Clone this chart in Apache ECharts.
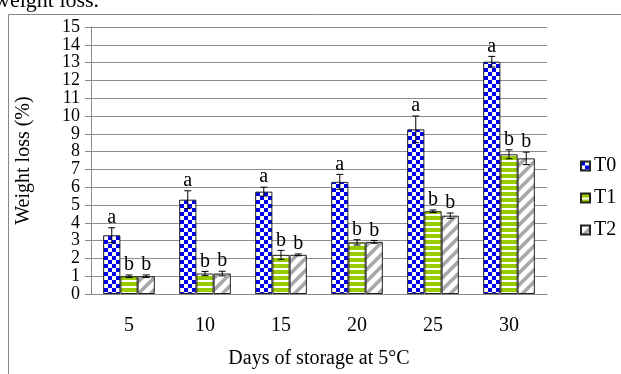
<!DOCTYPE html>
<html><head><meta charset="utf-8">
<script src="https://cdn.jsdelivr.net/npm/echarts@6/dist/echarts.min.js"></script>
<style>html,body{margin:0;padding:0;background:#fff}#c{width:621px;height:374px}</style>
</head><body><div id="c"></div>
<script>
const categories = ['5', '10', '15', '20', '25', '30'];
const seriesNames = ['T0', 'T1', 'T2'];
const t0 = [3.3, 5.3, 5.75, 6.3, 9.25, 13.05];
const t1 = [1.0, 1.15, 2.2, 2.9, 4.65, 7.85];
const t2 = [1.0, 1.15, 2.2, 2.93, 4.4, 7.62];
const t0Err = [0.42, 0.5, 0.25, 0.42, 0.75, 0.3];
const t1Err = [0.07, 0.12, 0.25, 0.15, 0.07, 0.25];
const t2Err = [0.07, 0.13, 0.05, 0.08, 0.15, 0.35];
const t0Letters = ['a', 'a', 'a', 'a', 'a', 'a'];
const t1Letters = ['b', 'b', 'b', 'b', 'b', 'b'];
const t2Letters = ['b', 'b', 'b', 'b', 'b', 'b'];
const yTicks = [0, 1, 2, 3, 4, 5, 6, 7, 8, 9, 10, 11, 12, 13, 14, 15];
const yMin = 0, yMax = 15, yStep = 1;

const FONT = "'Liberation Serif', 'Times New Roman', serif";
const GAP = 0.32;

function makeCanvas(w, h, draw) {
  const c = document.createElement('canvas');
  c.width = w; c.height = h;
  const ctx = c.getContext('2d');
  draw(ctx, w, h);
  return c;
}
const checker = makeCanvas(8, 8, (ctx) => {
  ctx.fillStyle = '#fff'; ctx.fillRect(0, 0, 8, 8);
  ctx.fillStyle = '#0000f0';
  ctx.fillRect(0, 0, 4, 4); ctx.fillRect(4, 4, 4, 4);
});
const hstripe = makeCanvas(6, 6, (ctx) => {
  ctx.fillStyle = '#fff'; ctx.fillRect(0, 0, 6, 6);
  ctx.fillStyle = '#99cc00'; ctx.fillRect(0, 0, 6, 4);
});
const diag = makeCanvas(12, 12, (ctx) => {
  ctx.fillStyle = '#fff'; ctx.fillRect(0, 0, 12, 12);
  ctx.strokeStyle = '#a8a8a8'; ctx.lineWidth = 3.5;
  [[-6, 6, 6, -6], [0, 12, 12, 0], [6, 18, 18, 6]].forEach(l => {
    ctx.beginPath(); ctx.moveTo(l[0], l[1]); ctx.lineTo(l[2], l[3]); ctx.stroke();
  });
});
const patterns = [checker, hstripe, diag];
const values = [t0, t1, t2];
const errs = [t0Err, t1Err, t2Err];
const letters = [t0Letters, t1Letters, t2Letters];

const errData = [];
values.forEach((arr, k) => arr.forEach((v, i) => errData.push([i, k, v, errs[k][i], letters[k][i]])));

const chart = echarts.init(document.getElementById('c'));
const barSeries = seriesNames.map((n, k) => ({
  name: n, type: 'bar', data: values[k],
  barGap: 0, barCategoryGap: (GAP * 100) + '%',
  itemStyle: { color: { image: patterns[k], repeat: 'repeat' }, borderColor: '#222', borderWidth: 1 },
  emphasis: { disabled: true }
}));

chart.setOption({
  animation: false,
  backgroundColor: '#fff',
  grid: { left: 91, right: 74, top: 27, bottom: 78 },
  graphic: [
    { type: 'rect', shape: { x: 8.5, y: 14.5, width: 620, height: 400 }, style: { fill: 'none', stroke: '#888', lineWidth: 1 }, silent: true },
    { type: 'text', x: -6, y: 12, style: { text: 'weight loss.', font: "22px 'Liberation Serif', serif", fill: '#000', textVerticalAlign: 'bottom' }, silent: true }
  ],
  legend: {
    orient: 'vertical', left: 575, top: 151, itemGap: 12, itemWidth: 9, itemHeight: 9,
    icon: 'rect', data: seriesNames,
    textStyle: { fontFamily: FONT, fontSize: 20, color: '#000', padding: [0, 0, 0, -1] }
  },
  xAxis: {
    type: 'category', data: categories,
    name: 'Days of storage at 5°C', nameLocation: 'middle', nameGap: 55,
    nameTextStyle: { fontFamily: FONT, fontSize: 20, color: '#000' },
    axisLine: { lineStyle: { color: '#888' } },
    axisTick: { length: 6, lineStyle: { color: '#888' } },
    axisLabel: { fontFamily: FONT, fontSize: 20, color: '#000', margin: 22 }
  },
  yAxis: {
    type: 'value', min: yMin, max: yMax, interval: yStep,
    name: 'Weight loss (%)', nameLocation: 'middle', nameGap: 57,
    nameTextStyle: { fontFamily: FONT, fontSize: 20, color: '#000' },
    axisLine: { show: true, lineStyle: { color: '#888' } },
    axisTick: { show: true, length: 6, lineStyle: { color: '#888' } },
    axisLabel: { show: false },
    splitLine: { lineStyle: { color: '#8c8c8c' } }
  },
  series: barSeries.concat([{
    type: 'custom', data: errData, encode: { x: 0, y: 2 }, z: 10, silent: true,
    renderItem: function (params, api) {
      const ci = api.value(0), k = api.value(1), v = api.value(2), e = api.value(3);
      const letter = errData[params.dataIndex][4];
      const bw = api.size([1, 0])[0];
      const groupW = bw * (1 - GAP), barW = groupW / 3;
      const cx = api.coord([ci, 0])[0] - groupW / 2 + barW * (k + 0.5);
      const yT = api.coord([ci, v + e])[1], yB = api.coord([ci, v - e])[1];
      const st = { stroke: '#000', lineWidth: 1 };
      return { type: 'group', children: [
        { type: 'line', shape: { x1: cx, y1: yT, x2: cx, y2: yB }, style: st },
        { type: 'line', shape: { x1: cx - 3.5, y1: yT, x2: cx + 3.5, y2: yT }, style: st },
        { type: 'line', shape: { x1: cx - 3.5, y1: yB, x2: cx + 3.5, y2: yB }, style: st },
        { type: 'text', x: cx, y: yT, style: { text: letter, font: "20px 'Liberation Serif', serif", fill: '#000', textAlign: 'center', textVerticalAlign: 'bottom' } }
      ] };
    }
  }, {
    type: 'custom', data: yTicks.map(v => [0, v]), encode: { x: 0, y: 1 }, z: 10, silent: true, clip: false,
    renderItem: function (params, api) {
      const v = api.value(1);
      const bw = api.size([1, 0])[0];
      const p = api.coord([0, v]);
      return { type: 'text', x: p[0] - bw / 2 - 11, y: p[1],
        style: { text: String(v), font: "18px 'Liberation Serif', serif", fill: '#000', textAlign: 'right', textVerticalAlign: 'middle' } };
    }
  }])
});
</script></body></html>
